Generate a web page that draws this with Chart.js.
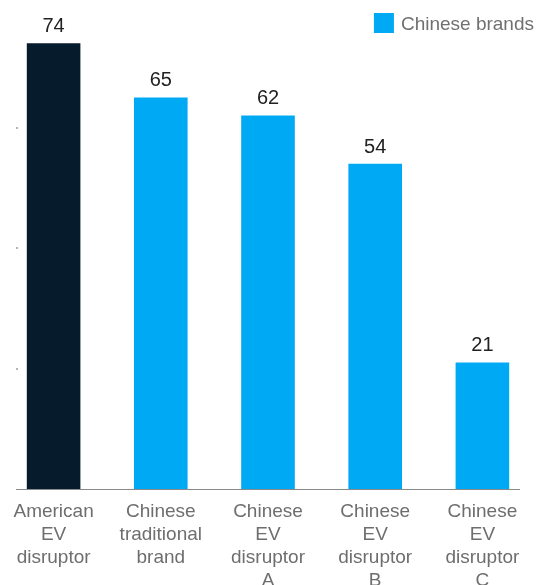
<!DOCTYPE html>
<html>
<head>
<meta charset="utf-8">
<script src="https://cdn.jsdelivr.net/npm/chart.js@4.4.1/dist/chart.umd.min.js"></script>
<style>
  html, body { margin: 0; padding: 0; background: #fff; }
  #wrap { width: 536px; height: 585px; }
</style>
</head>
<body>
<div id="wrap"><canvas id="barChart"></canvas></div>
<script>
// Brand categories and their scores
const brandNames = [
    ['American', 'EV', 'disruptor'],
    ['Chinese', 'traditional', 'brand'],
    ['Chinese', 'EV', 'disruptor', 'A'],
    ['Chinese', 'EV', 'disruptor', 'B'],
    ['Chinese', 'EV', 'disruptor', 'C']
];
const scores = [74, 65, 62, 54, 21];
const yTicks = [20, 40, 60];
const legendText = 'Chinese brands';

const darkNavy = '#061c2d';
const brightBlue = '#00a9f4';
const barColors = [darkNavy, brightBlue, brightBlue, brightBlue, brightBlue];

const FONT = '"Liberation Sans", Arial, sans-serif';

// baseline, little y tick dots, value labels and the legend key
const decorations = {
    id: 'decorations',
    afterDatasetsDraw(chart) {
        const ctx = chart.ctx;
        const y = chart.scales.y;
        const zero = y.getPixelForValue(0);
        ctx.save();
        ctx.strokeStyle = '#8a8a8a';
        ctx.lineWidth = 1;
        ctx.beginPath();
        ctx.moveTo(16, zero + 0.5);
        ctx.lineTo(520, zero + 0.5);
        ctx.stroke();

        ctx.fillStyle = '#b5b5b5';
        yTicks.forEach(v => {
            const py = Math.round(y.getPixelForValue(v));
            ctx.fillRect(16, py - 1, 2, 2);
        });

        ctx.fillStyle = '#222';
        ctx.font = '20px ' + FONT;
        ctx.textAlign = 'center';
        ctx.textBaseline = 'alphabetic';
        chart.getDatasetMeta(0).data.forEach((bar, i) => {
            ctx.fillText(scores[i], bar.x, bar.y - 11);
        });

        // legend key, top right
        ctx.font = '19px ' + FONT;
        ctx.textAlign = 'right';
        ctx.fillStyle = '#707070';
        const right = chart.width - 2;
        ctx.fillText(legendText, right, 30);
        const tw = ctx.measureText(legendText).width;
        ctx.fillStyle = brightBlue;
        ctx.fillRect(right - tw - 27, 13, 20, 20);
        ctx.restore();
    }
};

new Chart(document.getElementById('barChart'), {
    type: 'bar',
    data: {
        labels: brandNames,
        datasets: [{
            label: legendText,
            data: scores,
            backgroundColor: barColors,
            borderWidth: 0,
            categoryPercentage: 1,
            barPercentage: 0.5
        }]
    },
    options: {
        responsive: true,
        maintainAspectRatio: false,
        animation: false,
        layout: { padding: { top: 7, left: 0, right: 0, bottom: 0 } },
        scales: {
            x: {
                grid: { display: false },
                border: { display: false },
                ticks: {
                    color: '#6e6e6e',
                    font: { family: FONT, size: 19, lineHeight: 1.22 },
                    padding: 3,
                    maxRotation: 0,
                    autoSkip: false
                },
                afterFit(scale) { scale.height = 96; }
            },
            y: {
                display: false,
                min: 0,
                max: 80
            }
        },
        plugins: {
            tooltip: { enabled: false },
            legend: { display: false }
        }
    },
    plugins: [decorations]
});
</script>
</body>
</html>
